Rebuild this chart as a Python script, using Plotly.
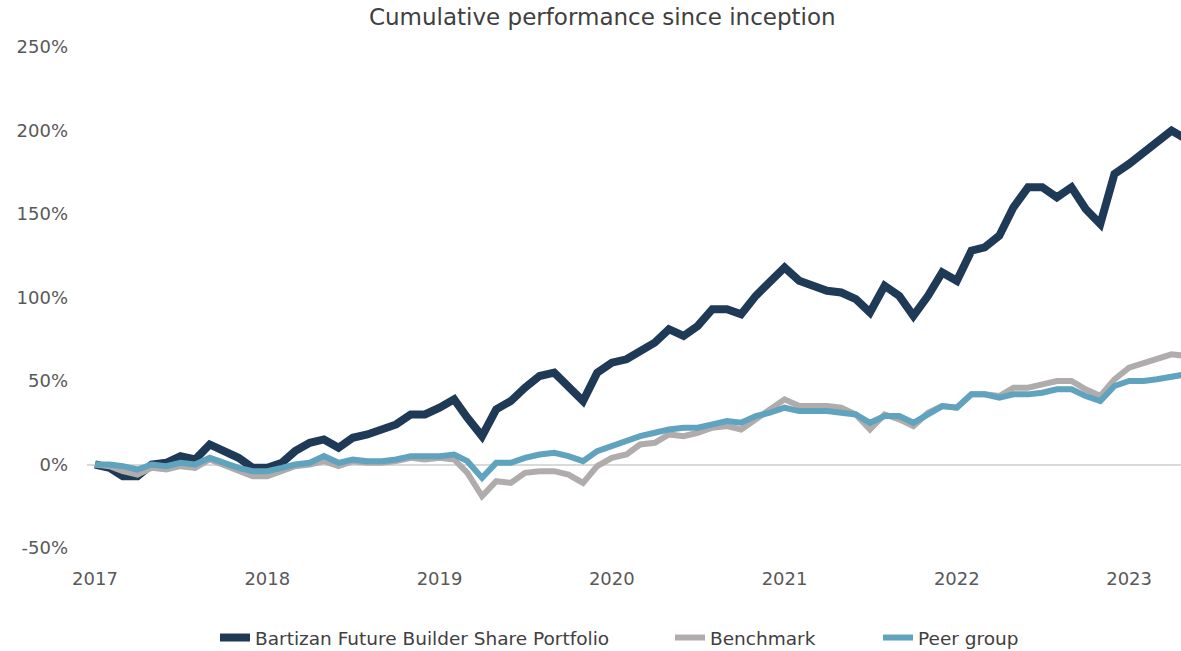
import plotly.graph_objects as go
import pandas as pd

# ---- data (cumulative performance, %) ----
months = pd.date_range("2017-01-01", periods=77, freq="MS")

portfolio = [0, -2, -7, -7, 0, 1, 5, 3, 12, 8, 4, -2,
             -2, 1, 8, 13, 15, 10, 16, 18, 21, 24, 30, 30,
             34, 39, 28, 17, 33, 38, 46, 53, 55, 47, 38, 55,
             61, 63, 68, 73, 81, 77, 83, 93, 93, 90, 101, 110,
             118, 110, 107, 104, 103, 99, 91, 107, 101, 89, 101, 115,
             110, 128, 130, 137, 154, 166, 166, 160, 166, 153, 144, 174,
             180, 187, 193, 200, 195]

benchmark = [0, -1, -4, -6, -2, -3, -1, -2, 3, 0, -4, -7,
             -7, -4, -1, 0, 2, -1, 2, 1, 1, 2, 4, 3,
             4, 3, -5, -19, -10, -11, -5, -4, -4, -6, -11, -1,
             4, 6, 12, 13, 18, 17, 19, 22, 23, 21, 27, 32,
             39, 35, 35, 35, 34, 30, 21, 30, 27, 23, 31, 35,
             34, 42, 42, 41, 46, 46, 48, 50, 50, 45, 41, 51,
             58, 61, 63, 66, 65]

peer_group = [0, 0, -1, -3, 0, -1, 1, 0, 4, 1, -2, -4,
              -4, -2, 0, 1, 5, 1, 3, 2, 2, 3, 5, 5,
              5, 6, 2, -8, 1, 1, 4, 6, 7, 5, 2, 8,
              11, 14, 17, 19, 21, 22, 22, 24, 26, 25, 29, 31,
              34, 32, 32, 32, 31, 30, 25, 29, 29, 25, 30, 35,
              34, 42, 42, 40, 42, 42, 43, 45, 45, 41, 38, 47,
              50, 50, 51, 53, 54]

series_names = ["Bartizan Future Builder Share Portfolio", "Benchmark", "Peer group"]
year_ticks = ["2017", "2018", "2019", "2020", "2021", "2022", "2023"]
y_ticks = [-50, 0, 50, 100, 150, 200, 250]

colors = ["#1f3a56", "#b0acac", "#5fa3bf"]
widths = [8, 6, 6]
legend_ids = ["legend", "legend2", "legend3"]

fig = go.Figure()
for name, vals, col, w, lg in zip(series_names, [portfolio, benchmark, peer_group],
                                  colors, widths, legend_ids):
    fig.add_trace(go.Scatter(x=months, y=vals, mode="lines", name=name,
                             line=dict(color=col, width=w), legend=lg,
                             showlegend=True))

font_fam = "DejaVu Sans"
leg_common = dict(orientation="h", yref="container", xref="container",
                  y=13 / 651, yanchor="middle", xanchor="left",
                  bgcolor="rgba(0,0,0,0)",
                  font=dict(family=font_fam, size=18.5, color="#404040"))

fig.update_layout(
    width=1181, height=651,
    showlegend=True,
    margin=dict(l=87, r=0, t=47, b=103, autoexpand=False),
    paper_bgcolor="white", plot_bgcolor="white",
    title=dict(text="Cumulative performance since inception",
               x=0.51, xref="container", xanchor="center",
               y=1 - 17 / 651, yref="container", yanchor="middle",
               font=dict(family=font_fam, size=23, color="#404040")),
    legend=dict(x=215 / 1181, **leg_common),
    legend2=dict(x=670 / 1181, **leg_common),
    legend3=dict(x=878 / 1181, **leg_common),
    xaxis=dict(type="date",
               range=["2016-12-15", "2023-04-21"],
               tickvals=[f"{y}-01-01" for y in year_ticks],
               ticktext=year_ticks,
               showgrid=False, zeroline=False, showline=False,
               ticks="", ticklabelstandoff=18,
               tickfont=dict(family=font_fam, size=18, color="#595959")),
    yaxis=dict(range=[-50, 250],
               tickvals=y_ticks,
               ticktext=[f"{v}%" for v in y_ticks],
               showgrid=False, showline=False,
               zeroline=True, zerolinecolor="#d9d9d9", zerolinewidth=2,
               ticks="", ticklabelstandoff=18,
               tickfont=dict(family=font_fam, size=18, color="#595959")),
)

fig.write_html("out.html",
               config={"displayModeBar": False},
               post_script="document.body.style.margin='0px';document.body.style.overflow='hidden';")
